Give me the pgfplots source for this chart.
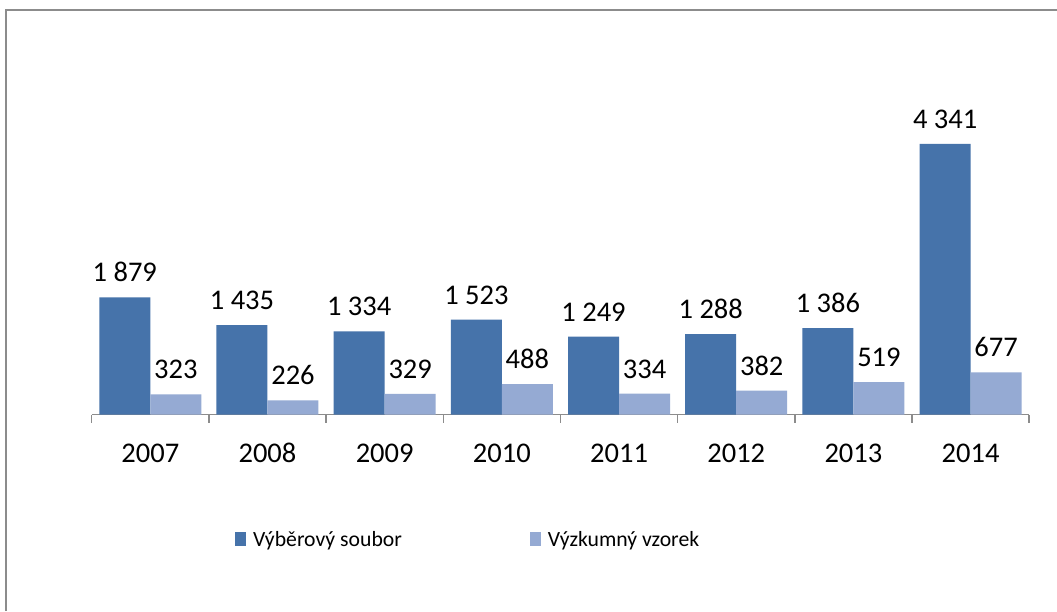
\documentclass[border=0pt]{standalone}
\usepackage{fontspec}
\setmainfont{Carlito}
\usepackage{pgfplots}
\pgfplotsset{compat=1.18}
\definecolor{darkb}{HTML}{4673AA}
\definecolor{lightb}{HTML}{95AAD3}
\definecolor{framegray}{HTML}{8C8C8C}
\definecolor{axisgray}{HTML}{8C8C8C}
\newcommand{\legfont}{\fontsize{21.7}{26}\selectfont}
\begin{document}
\begin{tikzpicture}
\useasboundingbox (0pt,0pt) rectangle (1057pt,611pt);
\fill[white] (0pt,0pt) rectangle (1057pt,611pt);
\draw[framegray, line width=2pt] (6pt,0pt) -- (6pt,601pt) -- (1057pt,601pt);
\begin{axis}[
  at={(91.7pt,196.5pt)}, anchor=south west,
  scale only axis, width=937.5pt, height=311.6pt,
  ymin=0, ymax=5000, xmin=-0.5, xmax=7.5,
  clip=false,
  separate axis lines,
  axis x line*=bottom, axis y line=none,
  x axis line style={-, draw=axisgray, line width=1.5pt},
  ytick=\empty,
  xtick={0,1,2,3,4,5,6,7},
  xticklabels={2007,2008,2009,2010,2011,2012,2013,2014},
  minor xtick={-0.5,0.5,1.5,2.5,3.5,4.5,5.5,6.5,7.5},
  major tick length=0pt, minor tick length=8pt,
  tick align=outside,
  minor tick style={draw=axisgray, line width=1.5pt},
  xticklabel style={font=\fontsize{28.5}{34}\selectfont, anchor=base, yshift=-48pt},
  ybar=0pt, bar width=51pt,
  /pgf/number format/1000 sep={\ },
  /pgf/number format/assume math mode=true,
  nodes near coords,
  every node near coord/.append style={font=\fontsize{28.5}{34}\selectfont, anchor=base, yshift=15.5pt, text=black},
  legend columns=2,
  legend style={draw=none, fill=none, at={(0.1529,-0.3851)}, anchor=west,
    inner sep=0pt, outer sep=0pt, nodes={inner sep=0pt, font=\legfont},
    /tikz/every even column/.append style={column sep=128pt}},
  legend image code/.code={\fill[#1] (0pt,-7pt) rectangle (11pt,7pt); \path (18pt,-7pt) (0pt,18pt);},
]
\addplot[fill=darkb, draw=none] coordinates {(0,1879) (1,1435) (2,1334) (3,1523) (4,1249) (5,1288) (6,1386) (7,4341)};
\addplot[fill=lightb, draw=none] coordinates {(0,323) (1,226) (2,329) (3,488) (4,334) (5,382) (6,519) (7,677)};
\legend{\legfont Výběrový soubor, \legfont Výzkumný vzorek}
\end{axis}
\end{tikzpicture}
\end{document}
